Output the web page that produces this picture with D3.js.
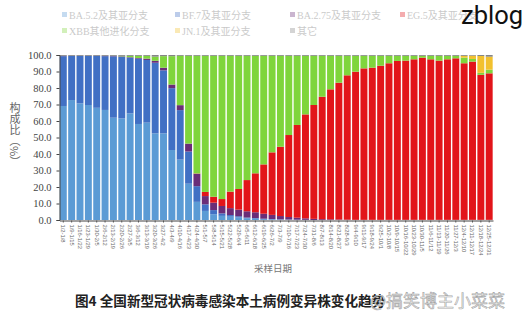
<!DOCTYPE html>
<html>
<head>
<meta charset="utf-8">
<script src="https://cdn.jsdelivr.net/npm/d3@7"></script>
<style>
  body { margin: 0; background: #fff; }
  svg { display: block; }
</style>
</head>
<body>
<svg id="chart" width="525" height="315"></svg>
<script>
// Weekly sampling periods, 2023
const weeks = [
  "1/2-1/8","1/9-1/15","1/16-1/22","1/23-1/29","1/30-2/5",
  "2/6-2/12","2/13-2/19","2/20-2/26","2/27-3/5",
  "3/6-3/12","3/13-3/19","3/20-3/26","3/27-4/2",
  "4/3-4/9","4/10-4/16","4/17-4/23","4/24-4/30",
  "5/1-5/7","5/8-5/14","5/15-5/21","5/22-5/28","5/29-6/4",
  "6/5-6/11","6/12-6/18","6/19-6/25","6/26-7/2",
  "7/3-7/9","7/10-7/16","7/17-7/23","7/24-7/30",
  "7/31-8/6","8/7-8/13","8/14-8/20","8/21-8/27",
  "8/28-9/3","9/4-9/10","9/11-9/17","9/18-9/24",
  "9/25-10/1","10/2-10/8","10/9-10/15","10/16-10/22","10/23-10/29",
  "10/30-11/5","11/6-11/12","11/13-11/19","11/20-11/26",
  "11/27-12/3","12/4-12/10","12/11-12/17","12/18-12/24","12/25-12/31"
];

// Variant names (stack order, bottom to top)
const variants = ["BA.5.2及其亚分支","BF.7及其亚分支","BA.2.75及其亚分支","EG.5及其亚分支","XBB其他进化分支","JN.1及其亚分支","其它"];
const colors   = ["#5b9bd5","#4170c4","#6a2d78","#e2151a","#7fd53c","#f2c12e","#858585"];

// Share of sequenced cases (%) per week
const ba52  = [69.1,72.7,70.7,69.7,68.0,66.7,62.0,61.6,64.6,58.2,59.0,52.5,52.5,42.4,36.6,22.0,11.0,
               5.5,3.5,2.5,2.0,1.5,1.0,0.8,0.5,0.4,0.3,0.2,0.1,0.1,0,0,0,0,0,0,0,0,0,0,0,0,0,0,0,0,0,0,0,0,0,0];
const bf7   = [30.2,26.7,28.7,29.7,31.4,32.6,37.2,37.3,33.8,39.6,38.0,42.8,38.2,37.5,30.0,19.5,9.5,
               4.0,2.5,1.5,1.0,0.8,0.5,0.4,0.3,0.2,0.1,0.1,0.1,0,0,0,0,0,0,0,0,0,0,0,0,0,0,0,0,0,0,0,0,0,0,0];
const ba275 = [0.2,0.1,0.1,0.1,0.1,0.2,0.2,0.3,0.3,0.4,0.8,1.2,1.6,2.2,3.0,4.8,7.5,
               5.0,4.5,4.5,4.2,4.0,3.8,3.5,3.0,2.5,2.0,1.5,1.2,0.9,0.7,0.5,0.4,0.3,0.2,0.1,0.1,0.1,0.1,0.1,0.1,0.1,0.1,0.1,0.1,0.1,0.1,0.1,0.1,0.1,0.1,0.1];
const eg5   = [0,0,0,0,0,0,0,0,0,0,0,0,0,0,0,0,0.2,
               2.5,3.6,4.2,10.0,12.5,18.9,23.6,29.9,37.9,42.0,49.7,56.2,63.0,69.0,74.2,78.8,82.9,87.5,89.8,
               91.8,92.2,93.4,94.9,96.3,96.5,97.3,98.3,97.3,96.5,97.3,97.9,94.9,95.9,87.9,88.8];
const xbb   = [0,0,0,0,0,0,0.1,0.3,0.8,1.3,1.7,2.5,7.0,17.2,29.9,53.2,71.3,
               82.5,85.4,86.8,82.3,80.7,75.3,71.2,65.8,58.5,55.1,48.0,41.9,35.5,29.8,24.8,20.3,16.3,11.8,9.6,
               7.6,7.2,6.0,4.5,3.1,2.9,2.1,1.1,2.1,2.9,2.1,1.5,3.4,1.6,1.2,2.2];
const jn1   = [0,0,0,0,0,0,0,0,0,0,0,0,0,0,0,0,0,
               0,0,0,0,0,0,0,0,0,0,0,0,0,0,0,0,0,0,0,
               0,0,0,0,0,0,0,0,0,0,0,0,1.1,2.0,10.2,7.9];
const other = [0.5,0.5,0.5,0.5,0.5,0.5,0.5,0.5,0.5,0.5,0.5,1.0,0.7,0.7,0.5,0.5,0.5,
               0.5,0.5,0.5,0.5,0.5,0.5,0.5,0.5,0.5,0.5,0.5,0.5,0.5,0.5,0.5,0.5,0.5,0.5,0.5,
               0.5,0.5,0.5,0.5,0.5,0.5,0.5,0.5,0.5,0.5,0.5,0.5,0.5,0.5,0.7,1.0];

const yTicks = d3.range(0, 101, 10);

const seriesValues = [ba52, bf7, ba275, eg5, xbb, jn1, other];
const rows = weeks.map((w, i) => {
  const r = { week: w };
  variants.forEach((v, k) => { r[v] = seriesValues[k][i]; });
  return r;
});

const svg = d3.select("#chart");
const serif = "'Liberation Serif','Noto Sans CJK SC',serif";
const cjk = "'Noto Sans CJK SC','Noto Sans',sans-serif";

const x = d3.scaleBand().domain(weeks).range([59.5, 493]).paddingInner(0.17).paddingOuter(0.04);
const y = d3.scaleLinear().domain([0, 100]).range([220, 55]);

const stack = d3.stack().keys(variants);
const layers = stack(rows);

// Stacked bars
svg.append("g")
  .selectAll("g")
  .data(layers)
  .join("g")
  .attr("fill", (d, i) => colors[i])
  .selectAll("rect")
  .data(d => d)
  .join("rect")
  .attr("x", d => x(d.data.week))
  .attr("width", x.bandwidth())
  .attr("y", d => y(Math.min(100, d[1])))
  .attr("height", d => Math.max(0, y(d[0]) - y(Math.min(100, d[1]))));

// Y axis
const yAxis = svg.append("g")
  .attr("transform", "translate(59.5,0)")
  .call(d3.axisLeft(y).tickValues(yTicks).tickFormat(d3.format(".1f")).tickSize(3).tickPadding(5));
yAxis.select(".domain").attr("stroke", "#444");
yAxis.selectAll(".tick line").attr("stroke", "#444");
yAxis.selectAll("text").attr("font-family", serif).attr("font-size", 10.5).attr("fill", "#444");

// X axis
const xAxis = svg.append("g")
  .attr("transform", "translate(0,220.5)")
  .call(d3.axisBottom(x).tickSize(2).tickSizeOuter(0));
xAxis.select(".domain").attr("stroke", "#444");
xAxis.selectAll(".tick line").attr("stroke", "#555");
xAxis.selectAll("text")
  .attr("font-family", "'Liberation Sans',sans-serif")
  .attr("font-size", 5.8)
  .attr("fill", "#666")
  .attr("transform", "rotate(90)")
  .attr("x", 4)
  .attr("y", 0)
  .attr("dy", "0.35em")
  .style("text-anchor", "start");

// Axis titles
svg.append("text")
  .attr("x", 15).attr("y", 102)
  .attr("font-family", cjk).attr("font-size", 11).attr("fill", "#666")
  .style("writing-mode", "vertical-rl")
  .text("构成比（%）");

svg.append("text")
  .attr("x", 273).attr("y", 272)
  .attr("text-anchor", "middle")
  .attr("font-family", cjk).attr("font-size", 9.5).attr("fill", "#777")
  .text("采样日期");

// Legend
const legendCols = [62, 175, 290, 400];
const legendRows = [15, 31];
const legend = svg.append("g").attr("opacity", 0.35);
variants.forEach((name, i) => {
  const col = i < 4 ? i : i - 4;
  const row = i < 4 ? 0 : 1;
  const g = legend.append("g").attr("transform", `translate(${legendCols[col]},${legendRows[row]})`);
  g.append("rect").attr("x", 0).attr("y", -3).attr("width", 5).attr("height", 5).attr("fill", colors[i]);
  g.append("text").attr("x", 7).attr("y", 0).attr("dy", "0.35em")
    .attr("font-family", serif).attr("font-size", 10).attr("fill", "#666")
    .text(name);
});

// Figure caption
svg.append("text")
  .attr("x", 75).attr("y", 306)
  .attr("font-family", cjk).attr("font-size", 13.6).attr("font-weight", "bold").attr("fill", "#222")
  .text("图4 全国新型冠状病毒感染本土病例变异株变化趋势");

// Overlaid marks
svg.append("text")
  .attr("x", 370).attr("y", 307)
  .attr("font-family", cjk).attr("font-size", 17)
  .attr("fill", "rgba(235,235,235,0.85)")
  .attr("stroke", "rgba(110,110,110,0.6)").attr("stroke-width", 0.6)
  .text("@搞笑博主小菜菜");

svg.append("text")
  .attr("x", 461).attr("y", 24)
  .attr("font-family", "Roboto,'Liberation Sans',sans-serif").attr("font-size", 25.5)
  .attr("fill", "#111")
  .text("zblog");
</script>
</body>
</html>
